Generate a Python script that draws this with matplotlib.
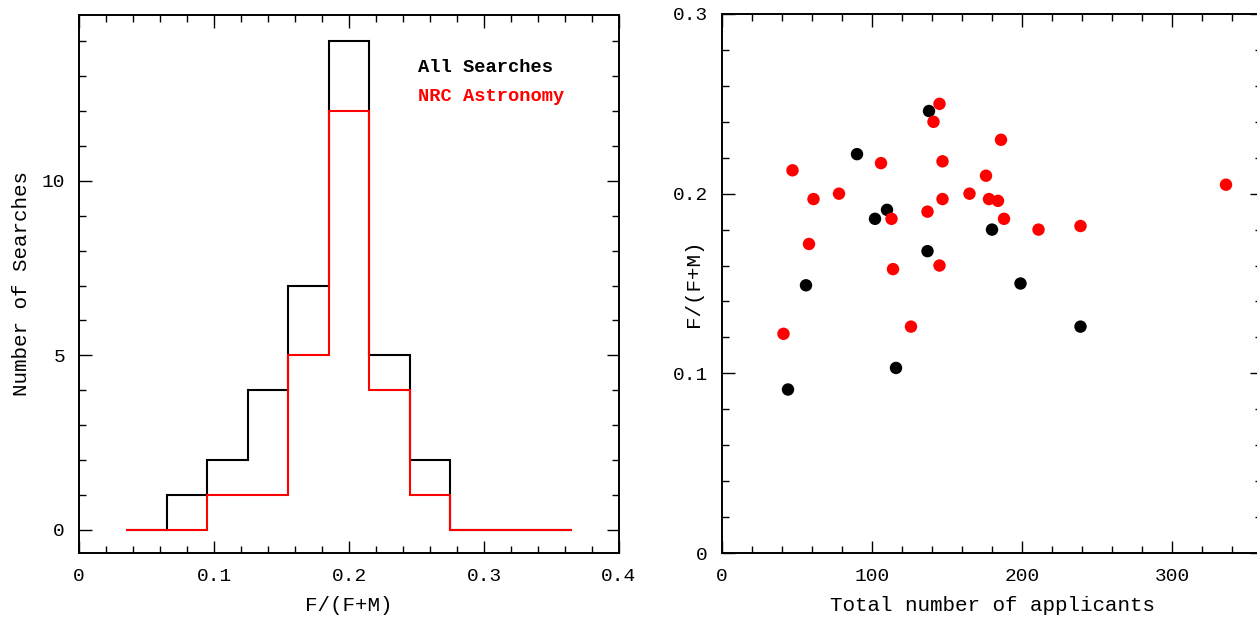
import matplotlib
matplotlib.use("Agg")
import matplotlib.pyplot as plt
from matplotlib.ticker import MultipleLocator, FuncFormatter

plt.rcParams['font.family'] = ['Liberation Mono', 'DejaVu Sans']

# histogram of F/(F+M), bin width 0.03
bin_edges = [0.035, 0.065, 0.095, 0.125, 0.155, 0.185, 0.215,
             0.245, 0.275, 0.305, 0.335, 0.365]
all_counts = [0, 1, 2, 4, 7, 14, 5, 2, 0, 0, 0]
nrc_counts = [0, 0, 1, 1, 5, 12, 4, 1, 0, 0, 0]

# scatter: total applicants vs F/(F+M)
all_n = [138, 90, 110, 102, 180, 137, 56, 199, 239, 116, 44]
all_f = [0.246, 0.222, 0.191, 0.186, 0.180, 0.168, 0.149, 0.150, 0.126, 0.103, 0.091]
nrc_n = [145, 141, 186, 106, 147, 47, 176, 336, 78, 61, 147, 165,
         178, 184, 137, 113, 188, 211, 239, 58, 114, 145, 126, 41]
nrc_f = [0.250, 0.240, 0.230, 0.217, 0.218, 0.213, 0.210, 0.205, 0.200, 0.197, 0.197, 0.200,
         0.197, 0.196, 0.190, 0.186, 0.186, 0.180, 0.182, 0.172, 0.158, 0.160, 0.126, 0.122]

W, H = 1257, 623
fig = plt.figure(figsize=(W / 100, H / 100), dpi=100)
ax1 = fig.add_axes([79 / W, 1 - 553 / H, 540 / W, 538 / H])
ax2 = fig.add_axes([722 / W, 1 - 553 / H, 540 / W, 539 / H])

# plain "0" at the origin, one decimal elsewhere
fmt = FuncFormatter(lambda v, p: '0' if abs(v) < 1e-9 else f'{v:.1f}')


def style(ax):
    for s in ax.spines.values():
        s.set_linewidth(1.4)
    ax.tick_params(which='both', direction='in', top=True, right=True,
                   labelsize=14, width=1.0)
    ax.tick_params(axis='x', pad=11)
    ax.tick_params(axis='y', pad=10)
    ax.tick_params(which='major', length=9)
    ax.tick_params(which='minor', length=5)


# left: histograms
ax1.stairs(all_counts, bin_edges, color='black', lw=1.5)
ax1.stairs(nrc_counts, bin_edges, color='red', lw=1.5)
ax1.set_xlim(0, 0.4)
ax1.set_ylim(-0.66, 14.75)
ax1.xaxis.set_major_locator(MultipleLocator(0.1))
ax1.xaxis.set_minor_locator(MultipleLocator(0.02))
ax1.yaxis.set_major_locator(MultipleLocator(5))
ax1.yaxis.set_minor_locator(MultipleLocator(1))
ax1.xaxis.set_major_formatter(fmt)
style(ax1)
ax1.set_xlabel('F/(F+M)', fontsize=15)
ax1.set_ylabel('Number of Searches', fontsize=15)
ax1.xaxis.set_label_coords(0.5, -0.08)
ax1.yaxis.set_label_coords(-0.089, 0.5)
ax1.text(0.251, 13.25, 'All Searches', color='black', fontsize=13.5, fontweight='bold', va='center')
ax1.text(0.251, 12.42, 'NRC Astronomy', color='red', fontsize=13.5, fontweight='bold', va='center')

# right: scatter
ax2.scatter(all_n, all_f, s=80, color='black', edgecolors='none', zorder=3)
ax2.scatter(nrc_n, nrc_f, s=80, color='red', edgecolors='none', zorder=4)
ax2.set_xlim(0, 360)
ax2.set_ylim(0, 0.3)
ax2.xaxis.set_major_locator(MultipleLocator(100))
ax2.xaxis.set_minor_locator(MultipleLocator(20))
ax2.yaxis.set_major_locator(MultipleLocator(0.1))
ax2.yaxis.set_minor_locator(MultipleLocator(0.02))
ax2.yaxis.set_major_formatter(fmt)
style(ax2)
ax2.set_xlabel('Total number of applicants', fontsize=15)
ax2.set_ylabel('F/(F+M)', fontsize=15)
ax2.xaxis.set_label_coords(0.5, -0.08)
ax2.yaxis.set_label_coords(-0.036, 0.5)

fig.savefig('out.png', dpi=100)
